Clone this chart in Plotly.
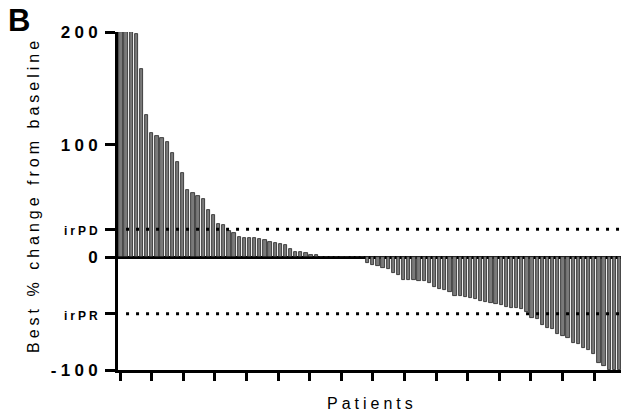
import plotly.graph_objects as go

# ---- data ----
positive_changes = [200, 200, 200, 198, 167, 126, 110, 108, 106, 102, 93, 85, 75,
                    60, 57, 54, 52, 42, 38, 30, 29, 23, 22, 18, 17, 17, 17, 16,
                    15, 14, 13, 12, 11, 7, 5, 5, 4, 2, 2]
stable_changes = [0, 0, 0, 0, 0, 0, 0, 0, 0]
negative_changes = [-4.7, -6.5, -7.7, -9.5, -10.4, -13.6, -15.4, -19.8, -19.8, -20,
                    -20.7, -21, -22.5, -26.4, -28.1, -29, -30.8, -34.4, -34.4, -35,
                    -36.4, -37.3, -39.1, -39.7,
                    -40.3, -41.5, -42.4, -43.9, -44.7, -45.3, -45.6, -48.6, -53.6,
                    -55, -60.4, -62.5, -63.4, -68.4, -70, -71.4, -75.8, -76.7,
                    -80.9, -82.4, -86.2, -94.2, -96.6, -100, -100, -100]
best_change = positive_changes + stable_changes + negative_changes
patients = list(range(1, len(best_change) + 1))

IRPD = 25
IRPR = -50
y_tick_values = [200, 100, IRPD, 0, IRPR, -100]
y_tick_labels = ["200", "100", "irPD", "0", "irPR", "-100"]
x_tick_values = [0.81 + 6.15 * k for k in range(16)]

SP = "\u2005"


def spaced(s):
    return SP.join(list(s))


def tick_label(s):
    if s.startswith("ir"):
        return '<span style="font-size:12px">' + spaced(s) + "</span>"
    return spaced(s)


fig = go.Figure()
fig.add_trace(go.Bar(
    x=patients, y=best_change, width=0.64,
    marker=dict(color="#7a7a7a", line=dict(color="#222222", width=0.8)),
    showlegend=False, hoverinfo="skip",
))

for level in (IRPD, IRPR):
    fig.add_shape(type="line", xref="paper", yref="y", x0=0.016, x1=1,
                  y0=level, y1=level,
                  line=dict(color="black", width=3, dash="3px,7px"), layer="above")

fig.update_layout(
    width=621, height=417,
    margin=dict(l=118, r=0, t=32, b=47),
    paper_bgcolor="white", plot_bgcolor="white",
    font=dict(family="Liberation Sans, Arial, sans-serif", color="black"),
    bargap=0,
    xaxis=dict(
        range=[0.42, 98.3], showgrid=False, zeroline=False,
        showline=True, linecolor="black", linewidth=3,
        ticks="outside", ticklen=8, tickwidth=3, tickcolor="black",
        tickvals=x_tick_values, showticklabels=False,
    ),
    yaxis=dict(
        range=[-100, 200], showgrid=False,
        zeroline=True, zerolinecolor="black", zerolinewidth=3,
        showline=True, linecolor="black", linewidth=3,
        ticks="outside", ticklen=10, tickwidth=3, tickcolor="black",
        ticklabelstandoff=4,
        tickvals=y_tick_values, ticktext=[tick_label(t) for t in y_tick_labels],
        tickfont=dict(family="Liberation Sans, Arial, sans-serif", size=17,
                      weight="bold", color="black"),
    ),
)

fig.add_annotation(
    text=spaced("Best % change from baseline"), textangle=-90,
    xref="paper", yref="paper", x=(33 - 118) / 503, y=(370 - 197) / 338,
    xanchor="center", yanchor="middle", showarrow=False,
    font=dict(family="Liberation Sans, Arial, sans-serif", size=16, color="black"),
)
fig.add_annotation(
    text=spaced("Patients"),
    xref="paper", yref="paper", x=0.5, y=-(403 - 370) / 338,
    xanchor="center", yanchor="middle", showarrow=False,
    font=dict(family="Liberation Sans, Arial, sans-serif", size=16, color="black"),
)
fig.add_annotation(
    text="<b>B</b>",
    xref="paper", yref="paper", x=(6 - 118) / 503, y=(370 - 21) / 338,
    xanchor="left", yanchor="middle", showarrow=False,
    font=dict(family="Liberation Sans, Arial, sans-serif", size=31, color="black"),
)

fig.write_html("out.html", config={"displayModeBar": False},
               post_script="document.body.style.margin='0';")
